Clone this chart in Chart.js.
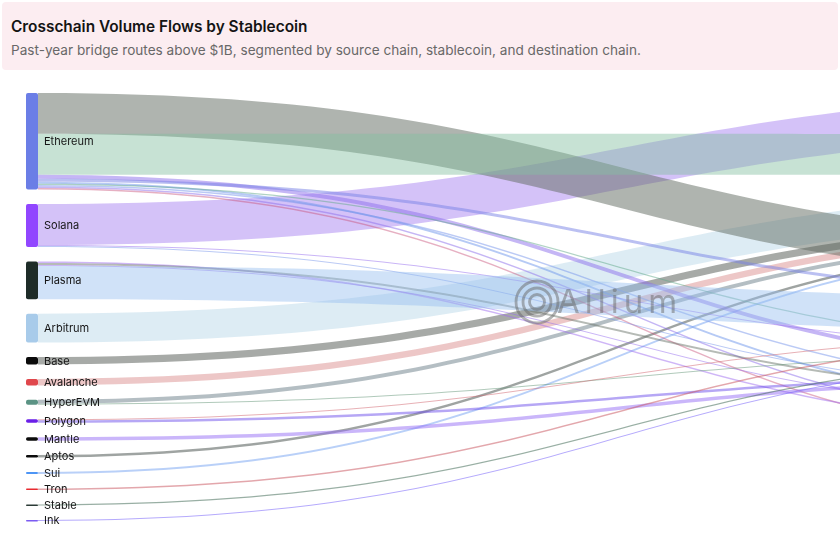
<!DOCTYPE html>
<html>
<head>
<meta charset="utf-8">
<script src="https://cdn.jsdelivr.net/npm/chart.js@4.4.1/dist/chart.umd.min.js"></script>
<style>
  html, body { margin: 0; padding: 0; width: 840px; height: 540px; overflow: hidden; background: #fff; font-family: Inter, "Noto Sans", sans-serif; }
  .header { position: absolute; left: 2px; top: 2px; width: 836px; height: 68px; background: #fcedf1; border-radius: 4px; }
  .header h1 { position: absolute; left: 9px; top: 15px; margin: 0; font-size: 15.4px; font-weight: 600; line-height: 20px; color: #141414; white-space: nowrap; }
  .header p { position: absolute; left: 9px; top: 39px; margin: 0; font-size: 13.6px; line-height: 18px; color: #686868; white-space: nowrap; }
  /* the sankey is wider than the window: the stablecoin column sits off to the right */
  .chart-wrap { position: absolute; left: 0; top: 72px; width: 1300px; height: 468px; }
</style>
</head>
<body>
<div class="header">
  <h1>Crosschain Volume Flows by Stablecoin</h1>
  <p>Past-year bridge routes above $1B, segmented by source chain, stablecoin, and destination chain.</p>
</div>
<div class="chart-wrap"><canvas id="flowChart"></canvas></div>
<script>
// Source chains (left column) and stablecoins (next column)
const sourceChains = ['Ethereum', 'Solana', 'Plasma', 'Arbitrum', 'Base', 'Avalanche', 'HyperEVM',
  'Polygon', 'Mantle', 'Aptos', 'Sui', 'Tron', 'Stable', 'Ink'];
const stablecoins = ['USDC', 'USDT', 'USDT0', 'USDe', 'PYUSD', 'USDS', 'DAI', 'USD1', 'FDUSD'];

// Flows, $B over the past year (stacking follows this order)
const flowFrom = ['Solana', 'Arbitrum', 'Base', 'Avalanche', 'HyperEVM', 'Aptos', 'Sui', 'Ethereum',
  'Ethereum', 'Ethereum', 'Ethereum', 'Ethereum', 'Ethereum', 'Ethereum', 'Ethereum', 'Ethereum',
  'Solana', 'Solana', 'Plasma', 'Plasma', 'Plasma', 'Plasma', 'HyperEVM', 'Polygon',
  'Polygon', 'Mantle', 'Tron', 'Stable', 'Ink'];
const flowTo = ['USDC', 'USDT', 'USDT', 'USDT', 'USDT', 'USDT', 'USDT', 'USDT',
  'USDC', 'PYUSD', 'USDT0', 'DAI', 'USDe', 'USDS', 'USD1', 'FDUSD',
  'USDe', 'USDS', 'USD1', 'USDS', 'DAI', 'USDT0', 'USDe', 'USDT0',
  'PYUSD', 'PYUSD', 'USDT0', 'USDe', 'USDe'];
const flowVolume = [49.4, 34.8, 9.0, 7.8, 4.8, 3.0, 2.4, 49.2,
  49.2, 4.8, 3.6, 2.4, 1.8, 1.8, 1.8, 1.8,
  1.2, 1.1, 1.8, 2.4, 1.2, 40.2, 1.2, 1.2,
  3.0, 4.2, 1.8, 1.4, 1.2];

// Styles
const sourceColors = ['#6b7ee6', '#9146ff', '#1e2c28', '#a8cbea', '#0b0b0b', '#e0474c', '#5b9384',
  '#6a1fe8', '#0b0b0b', '#0b0b0b', '#4d95f5', '#e82a30', '#2b3b36', '#7b5bf2'];
const flowColors = ['rgba(160,120,240,0.45)', 'rgba(180,212,230,0.45)',
  'rgba(95,100,95,0.55)', 'rgba(215,130,130,0.45)', 'rgba(105,125,135,0.5)', 'rgba(80,90,85,0.55)',
  'rgba(100,150,240,0.45)', 'rgba(95,105,95,0.5)',
  'rgba(130,190,160,0.45)', 'rgba(140,110,235,0.5)', 'rgba(120,130,230,0.5)', 'rgba(110,150,235,0.5)',
  'rgba(100,170,140,0.5)', 'rgba(120,150,235,0.5)', 'rgba(140,110,235,0.5)', 'rgba(200,80,120,0.45)',
  'rgba(150,110,240,0.5)', 'rgba(120,150,235,0.5)', 'rgba(160,110,240,0.5)',
  'rgba(110,120,110,0.5)', 'rgba(150,110,240,0.5)', 'rgba(150,190,240,0.45)', 'rgba(100,150,120,0.5)',
  'rgba(210,100,110,0.5)', 'rgba(110,80,235,0.5)', 'rgba(150,110,245,0.5)',
  'rgba(200,80,90,0.5)', 'rgba(70,110,90,0.55)', 'rgba(120,100,250,0.55)'];
const NODE_W = 12;
const NODE_PAD = 17.4; // gap between nodes, in $B units

// Node totals
function totals(names, keys) {
  const t = {};
  names.forEach(n => t[n] = 0);
  keys.forEach((k, i) => t[k] += flowVolume[i]);
  return t;
}
const srcTotal = totals(sourceChains, flowFrom);
const coinTotal = totals(stablecoins, flowTo);

function stack(names, t) {
  const pos = {};
  let y = 0;
  names.forEach(n => { pos[n] = { y0: y, y1: y + t[n], off: y }; y += t[n] + NODE_PAD; });
  return { pos, extent: y - NODE_PAD };
}
const srcCol = stack(sourceChains, srcTotal);
const coinCol = stack(stablecoins, coinTotal);
const yMax = Math.max(srcCol.extent, coinCol.extent);

const flows = flowVolume.map((v, i) => {
  const s = srcCol.pos[flowFrom[i]], t = coinCol.pos[flowTo[i]];
  const f = { sy0: s.off, sy1: s.off + v, ty0: t.off, ty1: t.off + v, color: flowColors[i] };
  s.off += v; t.off += v;
  return f;
});

const sankeyPlugin = {
  id: 'sankeyFlows',
  afterDatasetsDraw(chart) {
    const { ctx, scales: { x, y } } = chart;
    const xs = x.getPixelForValue(0), xt = x.getPixelForValue(1);
    const x0 = xs + NODE_W, x1 = xt - NODE_W, xm = (x0 + x1) / 2;
    ctx.save();
    flows.forEach(f => {
      const a0 = y.getPixelForValue(f.sy0), a1 = y.getPixelForValue(f.sy1);
      const b0 = y.getPixelForValue(f.ty0), b1 = y.getPixelForValue(f.ty1);
      ctx.beginPath();
      ctx.moveTo(x0, a0);
      ctx.bezierCurveTo(xm, a0, xm, b0, x1, b0);
      ctx.lineTo(x1, b1);
      ctx.bezierCurveTo(xm, b1, xm, a1, x0, a1);
      ctx.closePath();
      ctx.fillStyle = f.color;
      ctx.fill();
    });

    // source nodes + labels
    sourceChains.forEach((n, i) => {
      const p = srcCol.pos[n];
      const top = y.getPixelForValue(p.y0), bot = y.getPixelForValue(p.y1);
      ctx.fillStyle = sourceColors[i];
      ctx.beginPath();
      ctx.roundRect(xs, top, NODE_W, Math.max(bot - top, 1.5), 2);
      ctx.fill();
      ctx.fillStyle = '#161616';
      ctx.font = '11px Inter, "Noto Sans", sans-serif';
      ctx.textBaseline = 'middle';
      ctx.fillText(n, xs + NODE_W + 6, (top + bot) / 2 + 0.5);
    });
    // stablecoin nodes
    stablecoins.forEach(n => {
      const p = coinCol.pos[n];
      const top = y.getPixelForValue(p.y0), bot = y.getPixelForValue(p.y1);
      ctx.fillStyle = '#8a8f99';
      ctx.fillRect(x1, top, NODE_W, Math.max(bot - top, 1));
      ctx.fillStyle = '#1c1c1c';
      ctx.fillText(n, xt + 6, (top + bot) / 2);
    });

    // watermark
    ctx.globalAlpha = 0.5;
    ctx.strokeStyle = '#6a6a6a';
    ctx.lineWidth = 2.8;
    [21, 14, 7.5].forEach(r => { ctx.beginPath(); ctx.arc(537, 230, r, 0, Math.PI * 2); ctx.stroke(); });
    ctx.fillStyle = '#6a6a6a';
    ctx.font = '400 33px Inter, "Noto Sans", sans-serif';
    ctx.textBaseline = 'alphabetic';
    ctx.letterSpacing = '5px';
    ctx.fillText('Allium', 557, 241);
    ctx.restore();
  }
};

new Chart(document.getElementById('flowChart'), {
  type: 'scatter',
  data: { datasets: [] },
  options: {
    responsive: true,
    maintainAspectRatio: false,
    animation: false,
    layout: { padding: { left: 26, right: 88, top: 21, bottom: 19 } },
    scales: {
      x: { type: 'linear', min: 0, max: 1, display: false },
      y: { type: 'linear', min: 0, max: yMax, reverse: true, display: false }
    },
    plugins: { legend: { display: false }, tooltip: { enabled: false } }
  },
  plugins: [sankeyPlugin]
});
</script>
</body>
</html>
